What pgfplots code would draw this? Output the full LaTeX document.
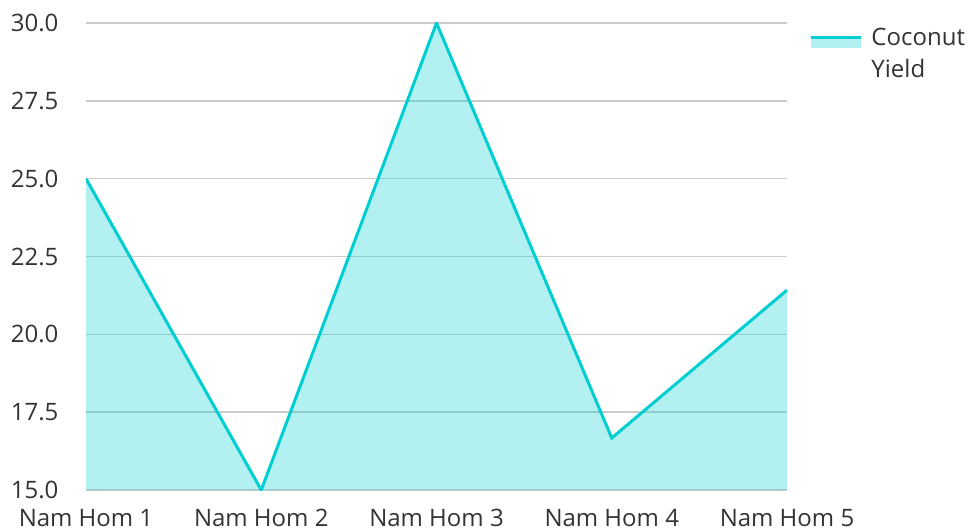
\documentclass[border=0pt]{standalone}
\usepackage{pgfplots}
\pgfplotsset{compat=1.18}
\usepackage{fontspec}
\setmainfont{Open Sans}
\definecolor{turq}{RGB}{0,206,209}
\definecolor{txt}{RGB}{51,51,51}
\definecolor{gridc}{RGB}{204,204,204}
\begin{document}
\begin{tikzpicture}
\useasboundingbox (-86pt,-41pt) rectangle (887pt,490pt);
\begin{axis}[
  at={(0pt,0pt)}, anchor=south west,
  scale only axis, width=701pt, height=467pt,
  xmin=0, xmax=4, ymin=15, ymax=30,
  xtick={0,1,2,3,4},
  xticklabels={Nam Hom 1,Nam Hom 2,Nam Hom 3,Nam Hom 4,Nam Hom 5},
  ytick={15,17.5,20,22.5,25,27.5,30},
  yticklabel style={xshift=-24pt, /pgf/number format/.cd,fixed,fixed zerofill,precision=1,assume math mode=true},
  xticklabel style={yshift=-16pt},
  ticklabel style={font=\fontsize{24}{28}\selectfont, text=txt},
  axis line style={draw=none},
  tick style={draw=none},
  ymajorgrids, grid style={color=gridc, line width=1.5pt},
  legend style={at={(1.0314,0.9936)}, anchor=north west, draw=none, fill=none,
    font=\fontsize{24}{32}\selectfont, text=txt, inner sep=0pt,
    cells={anchor=north west, align=left}},
  legend cell align=left,
]
\addplot[draw=none, fill=turq, fill opacity=0.3, forget plot] coordinates {(0,25) (1,15) (2,30) (3,16.67) (4,21.42)} \closedcycle;
\addplot[color=turq, line width=3pt,
  legend image code/.code={
    \path[draw=none, fill=turq, fill opacity=0.3] (0pt,6pt) rectangle (50pt,16pt);
    \draw[turq, line width=3.5pt] (0pt,16pt) -- (50pt,16pt);
    \path (57pt,0pt);
  }] coordinates {(0,25) (1,15) (2,30) (3,16.67) (4,21.42)};
\addlegendentry{Coconut\\Yield}
\end{axis}
\end{tikzpicture}
\end{document}
